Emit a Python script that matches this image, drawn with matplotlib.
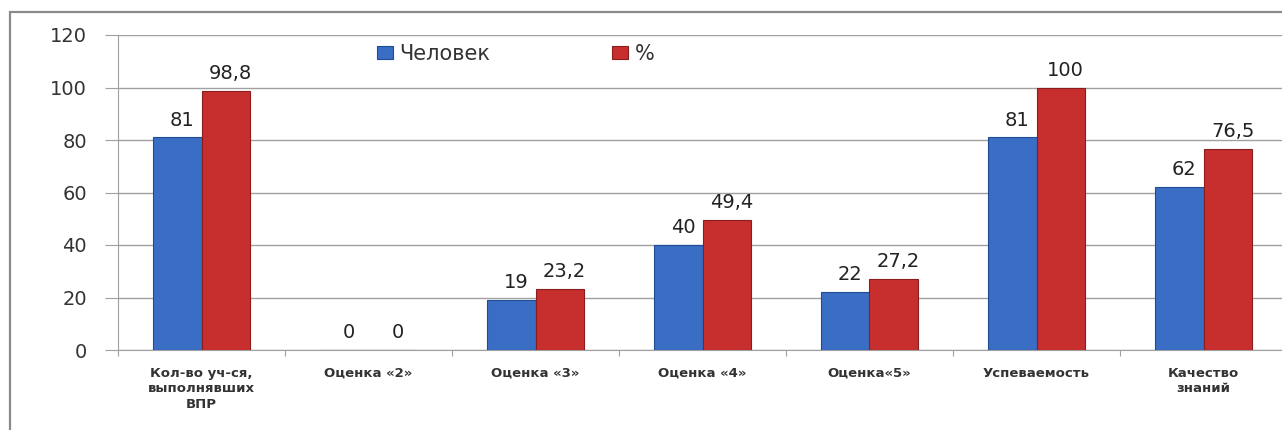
import matplotlib
matplotlib.use("Agg")
import matplotlib.pyplot as plt
from matplotlib.patches import Rectangle
import numpy as np

categories = ["Кол-во уч-ся,\nвыполнявших\nВПР", "Оценка «2»", "Оценка «3»",
              "Оценка «4»", "Оценка«5»", "Успеваемость", "Качество\nзнаний"]
people = [81, 0, 19, 40, 22, 81, 62]
percent = [98.8, 0, 23.2, 49.4, 27.2, 100, 76.5]
series_names = ["Человек", "%"]
yticks = [0, 20, 40, 60, 80, 100, 120]

plt.rcParams['font.family'] = ['DejaVu Sans']

W, H = 1282, 430
fig = plt.figure(figsize=(W / 100, H / 100), dpi=100)
fig.patch.set_facecolor("white")

# outer frame
fig.patches.append(Rectangle((10 / W, -0.05), 1.1, (H - 12) / H + 0.05,
                             transform=fig.transFigure, fill=False,
                             edgecolor="#8a8a8a", linewidth=1.6))

ax = fig.add_axes([118 / W, 80 / H, 1169 / W, 315 / H])
x = np.arange(len(categories))
bw = 0.29
blue = "#3a6dc4"
red = "#c72f2e"
ax.bar(x - bw / 2, people, bw, color=blue, edgecolor="#1f4b94", linewidth=0.8,
       label=series_names[0], zorder=3)
ax.bar(x + bw / 2, percent, bw, color=red, edgecolor="#8a1c1c", linewidth=0.8,
       label=series_names[1], zorder=3)

def fmt(v):
    return ("%g" % v).replace(".", ",")

for xi, v in zip(x - bw / 2, people):
    ax.text(xi + 0.03, v + 3, fmt(v), ha="center", va="bottom", fontsize=14,
            color="#222222")
for xi, v in zip(x + bw / 2, percent):
    ax.text(xi + 0.03, v + 3, fmt(v), ha="center", va="bottom", fontsize=14,
            color="#222222")

ax.set_xlim(-0.5, len(categories) - 0.5)
ax.set_ylim(0, 120)
ax.set_yticks(yticks)
ax.set_yticklabels([str(t) for t in yticks], fontsize=14, color="#333333")
ax.yaxis.grid(True, color="#a0a0a0", linewidth=1.0, zorder=0)
ax.set_axisbelow(True)
ax.tick_params(axis="y", length=9.5, color="#a0a0a0", pad=13)

ax.set_xticks(np.arange(len(categories) + 1) - 0.5, minor=False)
ax.set_xticklabels([])
ax.set_xticks(x, minor=True)
ax.set_xticklabels(categories, minor=True, fontsize=9.5, color="#333333",
                   fontweight="semibold", linespacing=1.25)
ax.tick_params(axis="x", which="major", length=4, color="#a0a0a0")
ax.tick_params(axis="x", which="minor", length=0, pad=12)

for s in ["top", "right"]:
    ax.spines[s].set_visible(False)
ax.spines["left"].set_color("#a0a0a0")
ax.spines["bottom"].set_color("#a0a0a0")

ax.legend(loc="center", bbox_to_anchor=(0.340, 0.94), ncol=2, frameon=False,
          fontsize=15, handlelength=0.8, handleheight=0.55, columnspacing=5.8,
          handletextpad=0.3, labelcolor="#333333")

fig.savefig("out.png", dpi=100, facecolor="white")
